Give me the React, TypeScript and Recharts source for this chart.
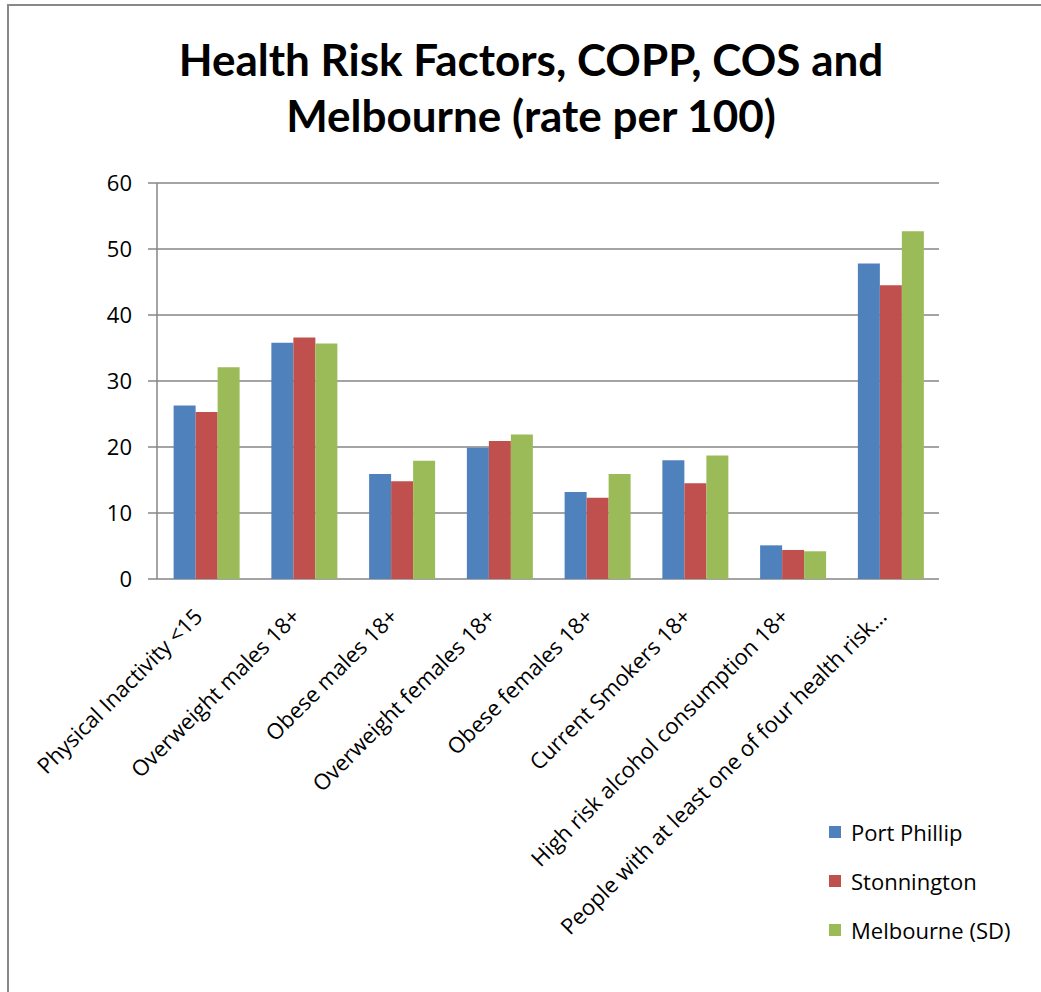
import { BarChart, Bar, XAxis, YAxis, CartesianGrid } from "recharts";

const categories = [
  "Physical Inactivity <15",
  "Overweight males 18+",
  "Obese males 18+",
  "Overweight females 18+",
  "Obese females 18+",
  "Current Smokers 18+",
  "High risk alcohol consumption 18+",
  "People with at least one of four health risk…",
];
const portPhillip = [26.3, 35.8, 15.9, 19.9, 13.2, 18.0, 5.1, 47.8];
const stonnington = [25.3, 36.6, 14.8, 20.9, 12.3, 14.5, 4.4, 44.5];
const melbourne = [32.1, 35.7, 17.9, 21.9, 15.9, 18.7, 4.2, 52.7];
const yTicks = [0, 10, 20, 30, 40, 50, 60];
const edgeTicks = [0, 1, 2, 3, 4, 5, 6, 7, 8];

const SERIES = [
  { key: "portPhillip", name: "Port Phillip", color: "#4F81BD" },
  { key: "stonnington", name: "Stonnington", color: "#C0504D" },
  { key: "melbourne", name: "Melbourne (SD)", color: "#9BBB59" },
];

const TITLE_FONT = "Lato, 'Open Sans', sans-serif";
const FONT = "'Open Sans', 'Noto Sans', sans-serif";
const GRID = "#868686";

const data = categories.map((name, i) => ({
  name,
  portPhillip: portPhillip[i],
  stonnington: stonnington[i],
  melbourne: melbourne[i],
}));

// rotated labels, end of text sits just under the category centre
const CategoryTick = ({ x, y, payload }: { x?: number; y?: number; payload?: { value: string } }) => (
  <g transform={`translate(${(x ?? 0) - 2},${(y ?? 0) + 31}) rotate(-45)`}>
    <text textAnchor="end" fontSize={22} fill="#000" fontFamily={FONT}>
      {payload?.value}
    </text>
  </g>
);

export default function App() {
  return (
    <div style={{ position: "fixed", left: 0, top: 0, width: 1041, height: 992, overflow: "hidden", background: "#fff" }}>
      <div
        style={{
          position: "absolute",
          left: 7,
          top: 4,
          width: 1100,
          height: 1100,
          border: "2px solid #888",
          boxSizing: "border-box",
        }}
      />
      <div
        style={{
          position: "absolute",
          left: 0,
          top: 31,
          width: 1062,
          textAlign: "center",
          fontFamily: TITLE_FONT,
          fontWeight: 700,
          fontSize: 44,
          lineHeight: "56px",
          color: "#000",
        }}
      >
        Health Risk Factors, COPP, COS and
        <br />
        Melbourne (rate per 100)
      </div>
      <div style={{ position: "absolute", left: 0, top: 0 }}>
        <BarChart
          width={1041}
          height={992}
          data={data}
          margin={{ top: 183, right: 102, bottom: 113, left: 97 }}
          barCategoryGap="17%"
          barGap={0}
        >
          <CartesianGrid vertical={false} stroke={GRID} strokeWidth={1.5} xAxisId="cat" />
          <XAxis
            xAxisId="edges"
            type="number"
            domain={[0, 8]}
            ticks={edgeTicks}
            allowDataOverflow
            height={0}
            tickSize={8}
            tickFormatter={() => ""}
            stroke={GRID}
            strokeWidth={1.5}
          />
          <XAxis
            xAxisId="cat"
            dataKey="name"
            interval={0}
            height={300}
            axisLine={false}
            tickLine={false}
            tick={<CategoryTick />}
          />
          <YAxis
            domain={[0, 60]}
            ticks={yTicks}
            width={60}
            tickSize={9}
            tickMargin={16}
            stroke={GRID}
            strokeWidth={1.5}
            tick={{ fontSize: 22, fill: "#000", fontFamily: FONT }}
          />
          {SERIES.map((s) => (
            <Bar key={s.key} xAxisId="cat" dataKey={s.key} name={s.name} fill={s.color} isAnimationActive={false} />
          ))}
        </BarChart>
      </div>
      <div style={{ position: "absolute", left: 829, top: 807, fontFamily: FONT, fontSize: 22, color: "#000" }}>
        {SERIES.map((s) => (
          <div key={s.key} style={{ display: "flex", alignItems: "center", height: 49 }}>
            <span style={{ width: 12, height: 12, background: s.color, marginRight: 10 }} />
            <span>{s.name}</span>
          </div>
        ))}
      </div>
    </div>
  );
}
